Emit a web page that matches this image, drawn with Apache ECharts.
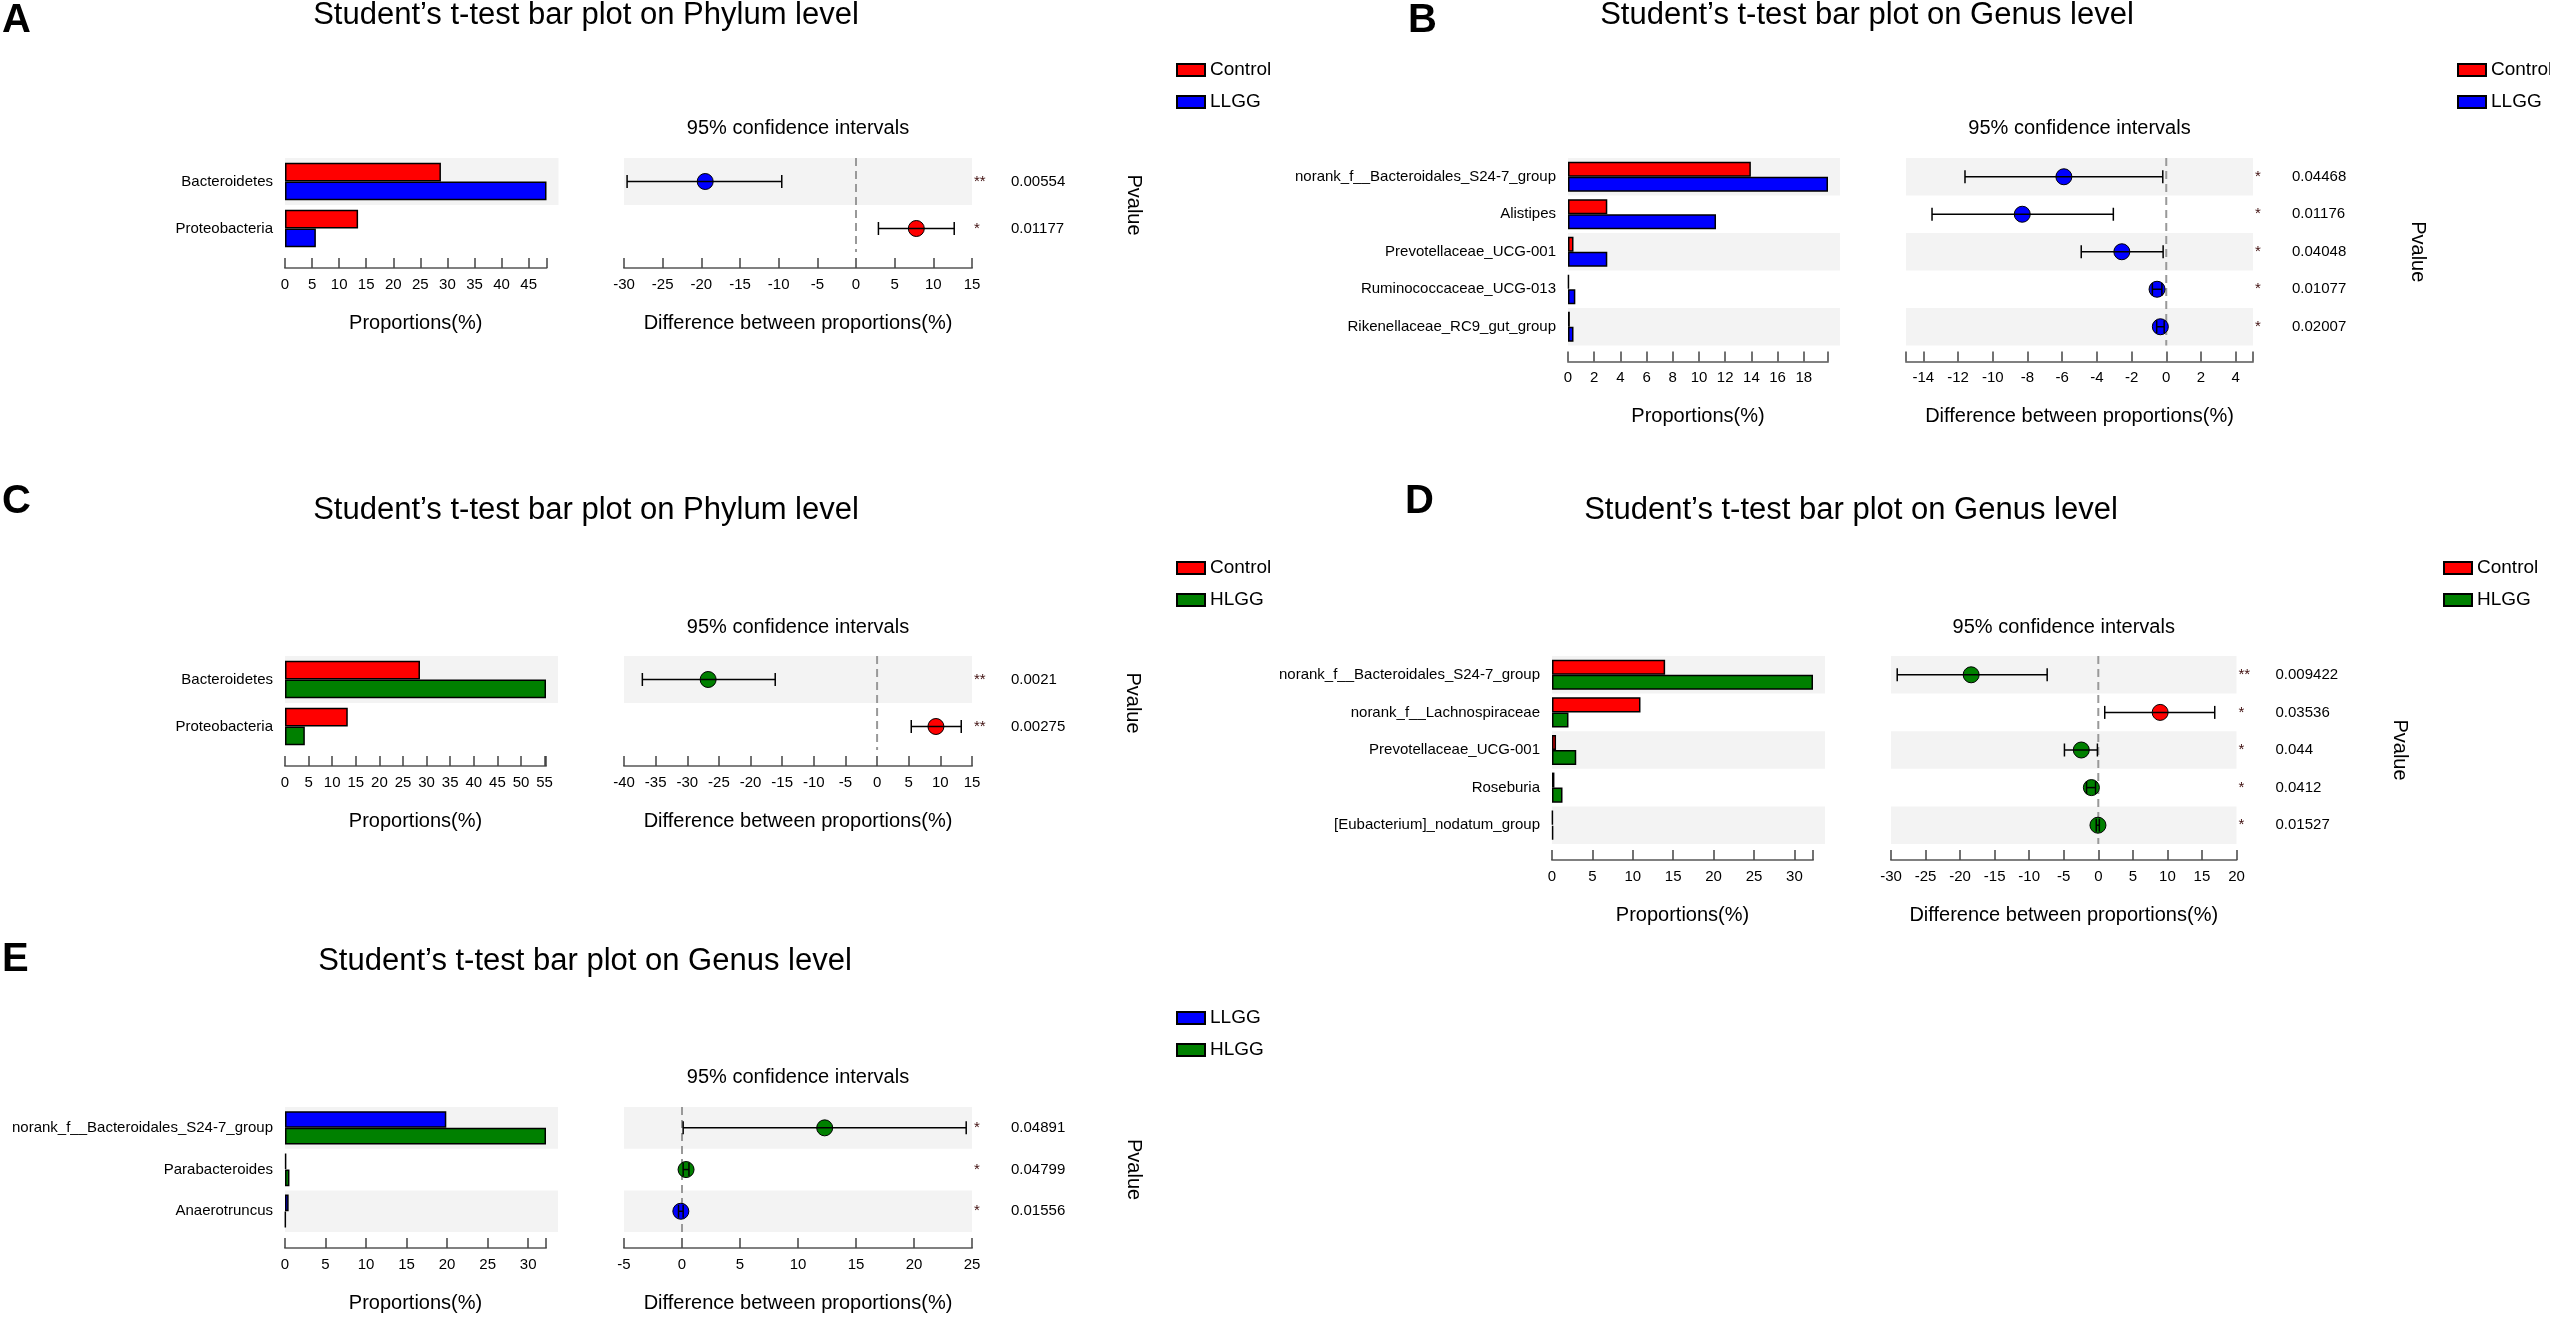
<!DOCTYPE html>
<html>
<head>
<meta charset="utf-8">
<title>Student's t-test bar plots</title>
<script src="https://cdn.jsdelivr.net/npm/echarts@6.0.0/dist/echarts.min.js"></script>
<style>
  html, body { margin: 0; padding: 0; background: #fff; }
  #chart { width: 2550px; height: 1317px; }
</style>
</head>
<body>
<div id="chart"></div>
<script>
var FONT = '"Liberation Sans", Arial, sans-serif';
var groupColors = { Control: '#ff0000', LLGG: '#0000ff', HLGG: '#008000' };

// A - phylum, Control vs LLGG
var aCategories = ['Bacteroidetes', 'Proteobacteria'];
var aControl = [28.8, 13.5];
var aLLGG = [48.3, 5.7];
var aDiff = [-19.5, 7.8];
var aLow = [-29.6, 2.9];
var aHigh = [-9.6, 12.7];
var aPvalue = ['0.00554', '0.01177'];
var aStars = ['**', '*'];
var aPropTicks = [0, 5, 10, 15, 20, 25, 30, 35, 40, 45];
var aDiffTicks = [-30, -25, -20, -15, -10, -5, 0, 5, 10, 15];
var aDiffRange = [-30, 15];

// B - genus, Control vs LLGG
var bCategories = ['norank_f__Bacteroidales_S24-7_group', 'Alistipes', 'Prevotellaceae_UCG-001',
  'Ruminococcaceae_UCG-013', 'Rikenellaceae_RC9_gut_group'];
var bControl = [13.96, 3.0, 0.42, 0.07, 0.14];
var bLLGG = [19.85, 11.3, 3.0, 0.56, 0.42];
var bDiff = [-5.9, -8.3, -2.56, -0.53, -0.34];
var bLow = [-11.6, -13.5, -4.9, -0.8, -0.55];
var bHigh = [-0.2, -3.05, -0.18, -0.25, -0.12];
var bPvalue = ['0.04468', '0.01176', '0.04048', '0.01077', '0.02007'];
var bStars = ['*', '*', '*', '*', '*'];
var bPropTicks = [0, 2, 4, 6, 8, 10, 12, 14, 16, 18];
var bDiffTicks = [-14, -12, -10, -8, -6, -4, -2, 0, 2, 4];
var bDiffRange = [-15, 5];

// C - phylum, Control vs HLGG
var cCategories = ['Bacteroidetes', 'Proteobacteria'];
var cControl = [28.6, 13.3];
var cHLGG = [55.3, 4.2];
var cDiff = [-26.7, 9.3];
var cLow = [-37.1, 5.4];
var cHigh = [-16.1, 13.3];
var cPvalue = ['0.0021', '0.00275'];
var cStars = ['**', '**'];
var cPropTicks = [0, 5, 10, 15, 20, 25, 30, 35, 40, 45, 50, 55];
var cDiffTicks = [-40, -35, -30, -25, -20, -15, -10, -5, 0, 5, 10, 15];
var cDiffRange = [-40, 15];

// D - genus, Control vs HLGG
var dCategories = ['norank_f__Bacteroidales_S24-7_group', 'norank_f__Lachnospiraceae',
  'Prevotellaceae_UCG-001', 'Roseburia', '[Eubacterium]_nodatum_group'];
var dControl = [14.0, 10.95, 0.5, 0.3, 0.1];
var dHLGG = [32.3, 2.04, 3.0, 1.3, 0.15];
var dDiff = [-18.4, 8.95, -2.46, -1.0, -0.05];
var dLow = [-29.1, 0.93, -4.9, -1.7, -0.3];
var dHigh = [-7.4, 16.85, -0.13, -0.4, 0.15];
var dPvalue = ['0.009422', '0.03536', '0.044', '0.0412', '0.01527'];
var dStars = ['**', '*', '*', '*', '*'];
var dPropTicks = [0, 5, 10, 15, 20, 25, 30];
var dDiffTicks = [-30, -25, -20, -15, -10, -5, 0, 5, 10, 15, 20];
var dDiffRange = [-30, 20];

// E - genus, LLGG vs HLGG
var eCategories = ['norank_f__Bacteroidales_S24-7_group', 'Parabacteroides', 'Anaerotruncus'];
var eLLGG = [19.9, 0.15, 0.45];
var eHLGG = [32.2, 0.55, 0.08];
var eDiff = [12.3, 0.35, -0.1];
var eLow = [0.1, 0.1, -0.3];
var eHigh = [24.5, 0.6, 0.1];
var ePvalue = ['0.04891', '0.04799', '0.01556'];
var eStars = ['*', '*', '*'];
var ePropTicks = [0, 5, 10, 15, 20, 25, 30];
var eDiffTicks = [-5, 0, 5, 10, 15, 20, 25];
var eDiffRange = [-5, 25];

var panels = [
  { letter: 'A', level: 'Phylum', groups: ['Control', 'LLGG'], cats: aCategories, g1: aControl, g2: aLLGG,
    diff: aDiff, low: aLow, high: aHigh, pvalue: aPvalue, stars: aStars,
    propTicks: aPropTicks, diffTicks: aDiffTicks, diffRange: aDiffRange,
    lay: { lx: 2, ly: 21, tx: 586, ty: 15, legX: 1171, legY: 55.5, ciY: 128, top: 158, rowH: 47,
      barL: 285, barR: 546.5, ciL: 624, ciR: 972, pvX: 1134 } },
  { letter: 'B', level: 'Genus', groups: ['Control', 'LLGG'], cats: bCategories, g1: bControl, g2: bLLGG,
    diff: bDiff, low: bLow, high: bHigh, pvalue: bPvalue, stars: bStars,
    propTicks: bPropTicks, diffTicks: bDiffTicks, diffRange: bDiffRange,
    lay: { lx: 1408, ly: 21, tx: 1867, ty: 15, legX: 2452, legY: 55.5, ciY: 128, top: 158, rowH: 37.5,
      barL: 1568, barR: 1828, ciL: 1906, ciR: 2253, pvX: 2418 } },
  { letter: 'C', level: 'Phylum', groups: ['Control', 'HLGG'], cats: cCategories, g1: cControl, g2: cHLGG,
    diff: cDiff, low: cLow, high: cHigh, pvalue: cPvalue, stars: cStars,
    propTicks: cPropTicks, diffTicks: cDiffTicks, diffRange: cDiffRange,
    lay: { lx: 2, ly: 502, tx: 586, ty: 510, legX: 1171, legY: 553.5, ciY: 627, top: 656, rowH: 47,
      barL: 285, barR: 546, ciL: 624, ciR: 972, pvX: 1133 } },
  { letter: 'D', level: 'Genus', groups: ['Control', 'HLGG'], cats: dCategories, g1: dControl, g2: dHLGG,
    diff: dDiff, low: dLow, high: dHigh, pvalue: dPvalue, stars: dStars,
    propTicks: dPropTicks, diffTicks: dDiffTicks, diffRange: dDiffRange,
    lay: { lx: 1405, ly: 502, tx: 1851, ty: 510, legX: 2438, legY: 553.5, ciY: 627, top: 656, rowH: 37.6,
      barL: 1552, barR: 1813, ciL: 1891, ciR: 2236.5, pvX: 2400 } },
  { letter: 'E', level: 'Genus', groups: ['LLGG', 'HLGG'], cats: eCategories, g1: eLLGG, g2: eHLGG,
    diff: eDiff, low: eLow, high: eHigh, pvalue: ePvalue, stars: eStars,
    propTicks: ePropTicks, diffTicks: eDiffTicks, diffRange: eDiffRange,
    lay: { lx: 2, ly: 960, tx: 585, ty: 961, legX: 1171, legY: 1003.5, ciY: 1077, top: 1107, rowH: 41.7,
      barL: 285, barR: 546, ciL: 624, ciR: 972, pvX: 1134 } }
];

var option = {
  animation: false,
  backgroundColor: '#ffffff',
  textStyle: { fontFamily: FONT },
  grid: [], xAxis: [], yAxis: [], series: [], legend: [], graphic: []
};

// grey band behind every other row, may stick out a bit to the right
function bandSeries(gi, n, pad) {
  var rows = [];
  for (var i = 0; i < n; i += 2) rows.push([0, i]);
  return {
    type: 'custom', xAxisIndex: gi, yAxisIndex: gi, data: rows, z: 1, silent: true,
    renderItem: function (params, api) {
      var cs = params.coordSys;
      var cy = api.coord([0, api.value(1)])[1];
      var h = api.size([0, 1])[1];
      return { type: 'rect', shape: { x: cs.x, y: cy - h / 2, width: cs.width + pad, height: h },
        style: { fill: '#f3f3f3' } };
    }
  };
}

function text(x, y, str, size, extra) {
  var el = { type: 'text', x: x, y: y, silent: true,
    style: { text: str, fontSize: size, fontFamily: FONT, fill: '#000',
      textAlign: 'center', textVerticalAlign: 'middle' } };
  if (extra) Object.keys(extra).forEach(function (k) {
    if (k === 'style') Object.assign(el.style, extra.style); else el[k] = extra[k];
  });
  return el;
}

var axisLineStyle = { color: '#808080', width: 2 };
var tickStyle = { color: '#444', width: 1.5 };

panels.forEach(function (p) {
  var L = p.lay;
  var n = p.cats.length;
  var h = L.rowH * n;
  var gb = option.grid.length;
  var gc = gb + 1;
  var barMax = Math.max.apply(null, p.g1.concat(p.g2));

  option.grid.push({ left: L.barL, top: L.top, width: L.barR - L.barL, height: h, outerBoundsMode: 'none' });
  option.grid.push({ left: L.ciL, top: L.top, width: L.ciR - L.ciL, height: h, outerBoundsMode: 'none' });

  // proportions axis
  option.xAxis.push({
    gridIndex: gb, type: 'value', min: 0, max: barMax, offset: 16,
    axisLine: { show: true, onZero: false, lineStyle: axisLineStyle },
    axisTick: { show: true, inside: true, length: 10, lineStyle: tickStyle,
      customValues: p.propTicks.concat([barMax]) },
    axisLabel: { customValues: p.propTicks, fontSize: 15, color: '#000', margin: 9, fontFamily: FONT },
    splitLine: { show: false },
    name: 'Proportions(%)', nameLocation: 'middle', nameGap: 45,
    nameTextStyle: { fontSize: 20, color: '#000', fontFamily: FONT }
  });
  // difference axis
  var diffTickVals = [p.diffRange[0]].concat(p.diffTicks, [p.diffRange[1]]);
  option.xAxis.push({
    gridIndex: gc, type: 'value', min: p.diffRange[0], max: p.diffRange[1], offset: 16,
    axisLine: { show: true, onZero: false, lineStyle: axisLineStyle },
    axisTick: { show: true, inside: true, length: 10, lineStyle: tickStyle, customValues: diffTickVals },
    axisLabel: { customValues: p.diffTicks, fontSize: 15, color: '#000', margin: 9, fontFamily: FONT },
    splitLine: { show: false },
    name: 'Difference between proportions(%)', nameLocation: 'middle', nameGap: 45,
    nameTextStyle: { fontSize: 20, color: '#000', fontFamily: FONT }
  });

  option.yAxis.push({
    gridIndex: gb, type: 'category', data: p.cats, inverse: true,
    axisLine: { show: false }, axisTick: { show: false }, splitLine: { show: false },
    axisLabel: { interval: 0, margin: 12, fontSize: 15, color: '#000', fontFamily: FONT }
  });
  option.yAxis.push({
    gridIndex: gc, type: 'category', data: p.cats, inverse: true, position: 'right',
    axisLine: { show: false }, axisTick: { show: false }, splitLine: { show: false },
    axisLabel: {
      interval: 0, margin: 2,
      formatter: function (v, i) { return '{s|' + p.stars[i] + '}{p|' + p.pvalue[i] + '}'; },
      rich: {
        s: { width: 37, fontSize: 15, color: '#3d0c0c', fontFamily: FONT },
        p: { fontSize: 15, color: '#000', fontFamily: FONT }
      }
    }
  });

  option.series.push(bandSeries(gb, n, 12));
  p.groups.forEach(function (g, k) {
    option.series.push({
      type: 'bar', name: g, xAxisIndex: gb, yAxisIndex: gb,
      data: k === 0 ? p.g1 : p.g2,
      barGap: '0%', barCategoryGap: '20%', z: 3, silent: true,
      itemStyle: { color: groupColors[g], borderColor: '#000', borderWidth: 1.5 }
    });
  });

  option.series.push(bandSeries(gc, n, 0));
  // dashed zero line
  option.series.push({
    type: 'custom', xAxisIndex: gc, yAxisIndex: gc, data: [[0, 0]], z: 2, silent: true,
    renderItem: function (params, api) {
      var cs = params.coordSys;
      var x = api.coord([0, 0])[0];
      return { type: 'line', shape: { x1: x, y1: cs.y, x2: x, y2: cs.y + cs.height },
        style: { stroke: '#999', lineWidth: 2, lineDash: [8, 5] } };
    }
  });
  // mean difference with 95% CI
  option.series.push({
    type: 'custom', xAxisIndex: gc, yAxisIndex: gc, z: 5, silent: true,
    data: p.diff.map(function (d, i) { return [d, i, p.low[i], p.high[i]]; }),
    encode: { x: [0, 2, 3], y: 1 },
    renderItem: function (params, api) {
      var i = params.dataIndex;
      var c = api.coord([api.value(0), api.value(1)]);
      var lo = api.coord([api.value(2), api.value(1)])[0];
      var hi = api.coord([api.value(3), api.value(1)])[0];
      var color = p.g1[i] >= p.g2[i] ? groupColors[p.groups[0]] : groupColors[p.groups[1]];
      var ln = { stroke: '#000', lineWidth: 1.5 };
      return { type: 'group', children: [
        { type: 'circle', shape: { cx: c[0], cy: c[1], r: 8 }, style: { fill: color, stroke: '#000', lineWidth: 1 } },
        { type: 'line', shape: { x1: lo, y1: c[1], x2: hi, y2: c[1] }, style: ln },
        { type: 'line', shape: { x1: lo, y1: c[1] - 6.5, x2: lo, y2: c[1] + 6.5 }, style: ln },
        { type: 'line', shape: { x1: hi, y1: c[1] - 6.5, x2: hi, y2: c[1] + 6.5 }, style: ln }
      ] };
    }
  });

  option.legend.push({
    data: p.groups, left: L.legX, top: L.legY, orient: 'vertical', icon: 'rect',
    itemWidth: 28, itemHeight: 12, itemGap: 13, selectedMode: false,
    textStyle: { fontSize: 19, color: '#000', fontFamily: FONT, lineHeight: 19 }
  });

  option.graphic.push(text(L.lx, L.ly, p.letter, 40,
    { style: { textAlign: 'left', fontWeight: 'bold' } }));
  option.graphic.push(text(L.tx, L.ty, 'Student\u2019s t-test bar plot on ' + p.level + ' level', 31));
  option.graphic.push(text((L.ciL + L.ciR) / 2, L.ciY, '95% confidence intervals', 20));
  option.graphic.push(text(L.pvX, L.top + h / 2, 'Pvalue', 20, { rotation: -Math.PI / 2 }));
});

var chart = echarts.init(document.getElementById('chart'));
chart.setOption(option);
</script>
</body>
</html>
